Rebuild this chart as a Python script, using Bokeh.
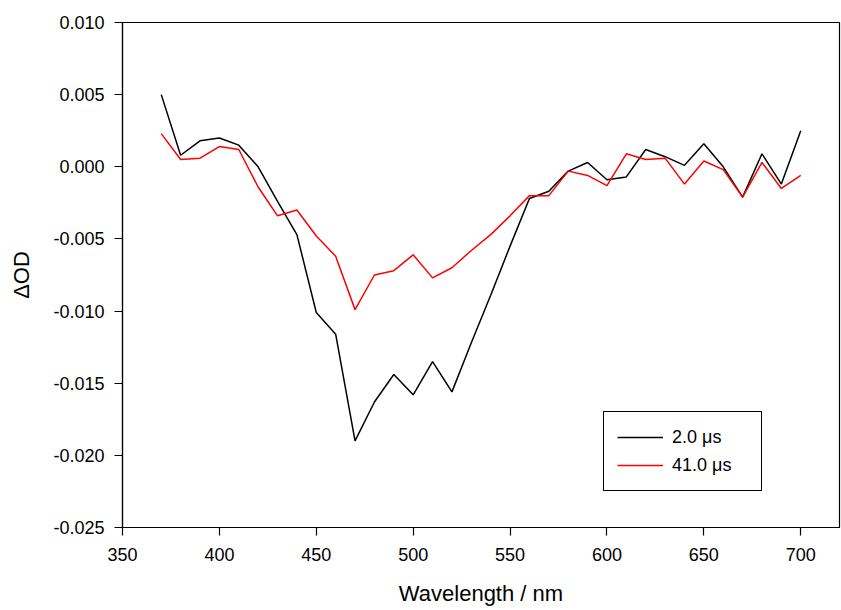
from bokeh.plotting import figure
from bokeh.models import Range1d, FixedTicker, PrintfTickFormatter, Legend, LegendItem
from bokeh.embed import file_html
from bokeh.resources import INLINE

wavelength = [370, 380, 390, 400, 410, 420, 430, 440, 450, 460, 470, 480, 490, 500,
              510, 520, 530, 540, 550, 560, 570, 580, 590, 600, 610, 620, 630, 640,
              650, 660, 670, 680, 690, 700]
od_2us = [0.0050, 0.0008, 0.0018, 0.0020, 0.0015, 0.0000, -0.0024, -0.0047, -0.0101, -0.0116,
          -0.0190, -0.0163, -0.0144, -0.0158, -0.0135, -0.0156, -0.0122, -0.0089, -0.0055, -0.0022,
          -0.0017, -0.0003, 0.0003, -0.0009, -0.0007, 0.0012, 0.0007, 0.0001, 0.0016, 0.0000,
          -0.0021, 0.0009, -0.0012, 0.0025]
od_41us = [0.0023, 0.0005, 0.0006, 0.0014, 0.0012, -0.0014, -0.0034, -0.0030, -0.0048, -0.0062,
           -0.0099, -0.0075, -0.0072, -0.0061, -0.0077, -0.0070, -0.0058, -0.0047, -0.0034, -0.0020,
           -0.0020, -0.0003, -0.0006, -0.0013, 0.0009, 0.0005, 0.0006, -0.0012, 0.0004, -0.0002,
           -0.0021, 0.0003, -0.0015, -0.0006]
series_labels = ["2.0 \u03bcs", "41.0 \u03bcs"]
x_ticks = [350, 400, 450, 500, 550, 600, 650, 700]
y_ticks = [-0.025, -0.020, -0.015, -0.010, -0.005, 0.000, 0.005, 0.010]

FONT = "Liberation Sans"

p = figure(width=841, height=610, output_backend="svg", toolbar_location=None,
           x_range=Range1d(350, 720), y_range=Range1d(-0.025, 0.010),
           min_border_left=122, min_border_right=2, min_border_top=22, min_border_bottom=83)
p.grid.visible = False
p.outline_line_color = "black"
p.outline_line_width = 1.2
p.background_fill_color = "white"
p.border_fill_color = "white"

r1 = p.line(wavelength, od_2us, line_color="black", line_width=1.5)
r2 = p.line(wavelength, od_41us, line_color="#ff0000", line_width=1.5)

for ax in (p.xaxis[0], p.yaxis[0]):
    ax.axis_line_color = "black"
    ax.axis_line_width = 1.2
    ax.major_tick_line_color = "black"
    ax.major_tick_line_width = 1.2
    ax.major_tick_out = 8
    ax.major_tick_in = 0
    ax.minor_tick_line_color = None
    ax.major_label_text_font = FONT
    ax.major_label_text_font_size = "18px"
    ax.major_label_text_color = "black"
    ax.axis_label_text_font = FONT
    ax.axis_label_text_font_style = "normal"
    ax.axis_label_text_color = "black"
    ax.axis_label_text_font_size = "22px"

p.xaxis[0].ticker = FixedTicker(ticks=x_ticks)
p.yaxis[0].ticker = FixedTicker(ticks=y_ticks)
p.yaxis[0].formatter = PrintfTickFormatter(format="%.3f")
p.xaxis[0].axis_label = "Wavelength / nm"
p.yaxis[0].axis_label = "\u0394OD"
p.xaxis[0].major_label_standoff = 12
p.yaxis[0].major_label_standoff = 10
p.xaxis[0].axis_label_standoff = 17
p.yaxis[0].axis_label_standoff = 16

legend = Legend(items=[LegendItem(label=series_labels[0], renderers=[r1]),
                       LegendItem(label=series_labels[1], renderers=[r2])],
                location=(481, 36))
legend.border_line_color = "black"
legend.border_line_alpha = 1.0
legend.border_line_width = 1.5
legend.background_fill_color = "white"
legend.background_fill_alpha = 1.0
legend.label_text_font = FONT
legend.label_text_font_size = "18px"
legend.label_text_color = "black"
legend.glyph_width = 46
legend.glyph_height = 24
legend.label_standoff = 9
legend.label_width = 76
legend.label_height = 24
legend.padding = 13
legend.spacing = 4
legend.margin = 0
p.add_layout(legend)

open("out.html", "w").write(file_html(p, INLINE))
